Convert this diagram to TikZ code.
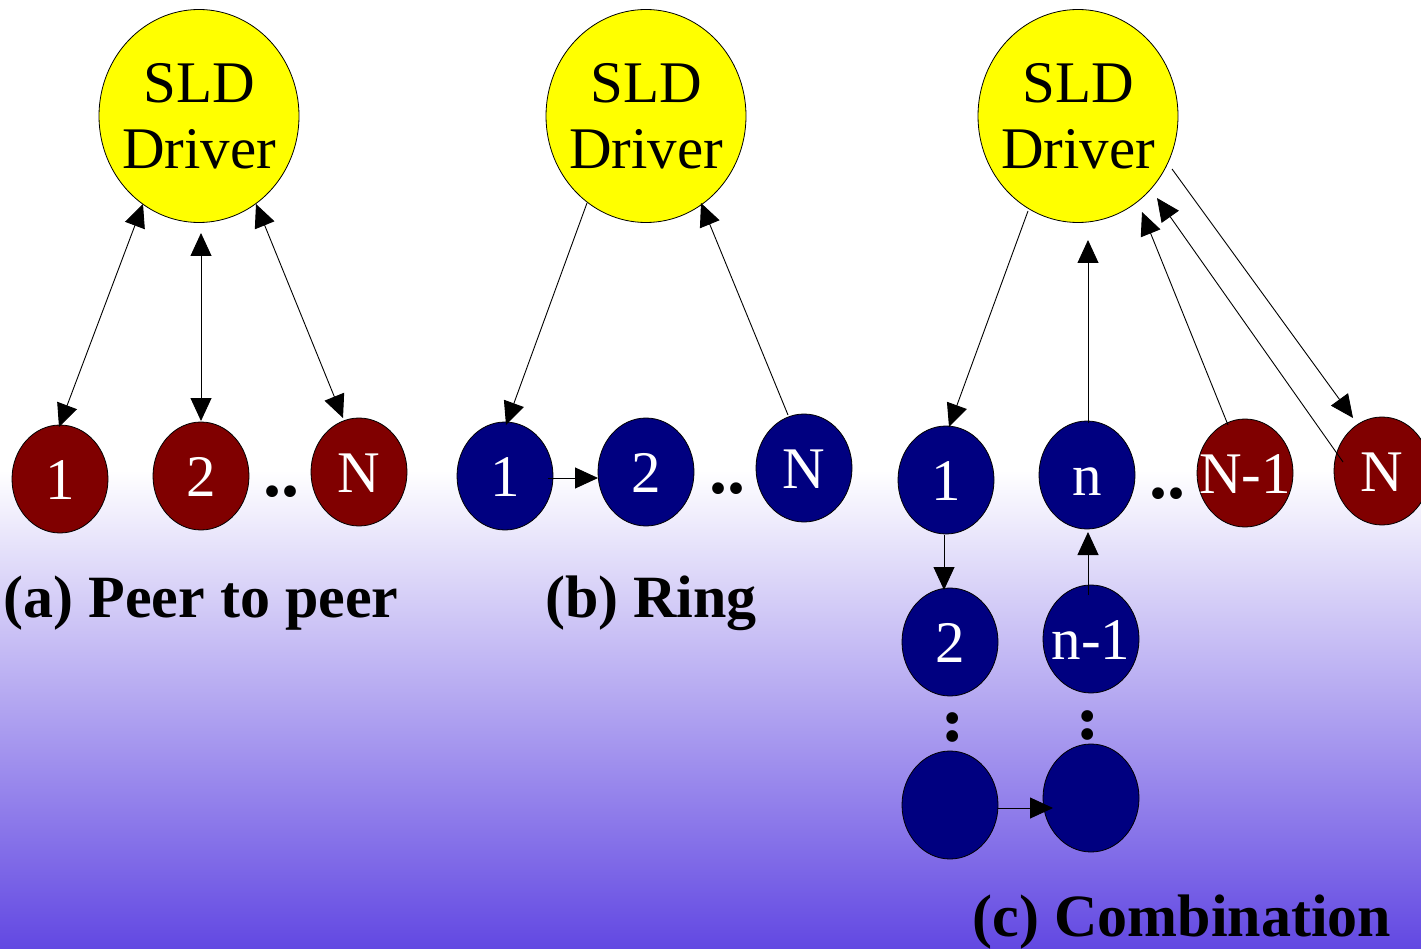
\documentclass[tikz,border=0pt]{standalone}
\usepackage{fontspec}
\setmainfont{Liberation Serif}
\usetikzlibrary{shapes.geometric,arrows.meta}
\definecolor{sldyellow}{RGB}{255,255,0}
\definecolor{peerred}{RGB}{128,0,0}
\definecolor{ringblue}{RGB}{0,0,128}
\definecolor{bgpurple}{RGB}{98,72,226}
\begin{document}
\begin{tikzpicture}[x=1pt,y=-1pt,
  driver/.style={ellipse,draw=black,line width=0.8pt,fill=sldyellow,minimum width=200pt,minimum height=213pt,inner sep=0pt,align=center,font=\fontsize{59}{66}\selectfont},
  station/.style={ellipse,draw=black,line width=0.8pt,minimum width=96pt,minimum height=108pt,inner sep=0pt,text=white,font=\fontsize{59}{66}\selectfont,text height=40pt,text depth=0pt},
  redst/.style={station,fill=peerred},
  bluest/.style={station,fill=ringblue},
  link/.style={line width=0.9pt,-{Triangle[length=23pt,width=21pt]}},
  dlink/.style={line width=0.9pt,{Triangle[length=23pt,width=21pt]}-{Triangle[length=23pt,width=21pt]}},
  dots/.style={inner sep=0pt,font=\fontsize{72}{72}\selectfont\bfseries},
  caption/.style={inner sep=0pt,anchor=base,font=\fontsize{60}{66}\selectfont\bfseries}]

\useasboundingbox (0,0) rectangle (1421,949);
\clip (0,0) rectangle (1421,949);
\fill[white] (0,0) rectangle (1421,470);
\shade[top color=white,bottom color=bgpurple] (0,470) rectangle (1421,949);

% (a) Peer to peer
\node[driver] (da) at (199,116) {\makebox[0pt]{SLD}\\\makebox[0pt]{Driver}};
\node[redst] (a1) at (60,479) {\makebox[0pt]{1}};
\node[redst] (a2) at (201,476) {\makebox[0pt]{2}};
\node[redst] (aN) at (359,472) {\makebox[0pt]{N}};
\node[dots,anchor=base] (adots) at (281,496) {..};
\node[caption] (capa) at (201,617) {(a) Peer to peer};

% (b) Ring
\node[driver] (db) at (646,116) {\makebox[0pt]{SLD}\\\makebox[0pt]{Driver}};
\node[bluest] (b1) at (505,476) {\makebox[0pt]{1}};
\node[bluest] (b2) at (646,472) {\makebox[0pt]{2}};
\node[bluest] (bN) at (804,468) {\makebox[0pt]{N}};
\node[dots,anchor=base] (bdots) at (727,493) {..};
\node[caption] (capb) at (651,617) {(b) Ring};

% (c) Combination
\node[driver] (dc) at (1078,116) {\makebox[0pt]{SLD}\\\makebox[0pt]{Driver}};
\node[bluest] (c1) at (946,480) {\makebox[0pt]{1}};
\node[bluest] (cn) at (1087,475) {\makebox[0pt]{n}};
\node[redst] (cN1) at (1245,473) {\makebox[0pt]{N-1}};
\node[redst] (cN) at (1382,471) {\makebox[0pt]{N}};
\node[dots,anchor=base] (cdots) at (1167,498) {..};
\node[bluest] (c2) at (950,642) {\makebox[0pt]{2}};
\node[bluest] (cn1) at (1091,639) {\makebox[0pt]{n-1}};
\node[dots,rotate=90] (vdotsl) at (953,727) {..};
\node[dots,rotate=90] (vdotsr) at (1088,725) {..};
\node[bluest] (c3) at (950,805) {};
\node[bluest] (c4) at (1091,798) {};
\node[caption] (capc) at (1182,936) {(c) Combination};

% connectors (a)
\draw[dlink] ([shift={(-56,88)}]da.center) -- ([shift={(-1,-52)}]a1.center);
\draw[dlink] ([shift={(2,117)}]da.center) -- ([shift={(0,-55)}]a2.center);
\draw[dlink] ([shift={(57,88)}]da.center) -- ([shift={(-16,-54)}]aN.center);

% connectors (b)
\draw[link] ([shift={(-59,87)}]db.center) -- ([shift={(1,-51)}]b1.center);
\draw[link] ([shift={(-16,-53)}]bN.center) -- ([shift={(55,87)}]db.center);
\draw[link] ([shift={(43,2)}]b1.center) -- ([shift={(-48,6)}]b2.center);

% connectors (c)
\draw[link] ([shift={(-50,95)}]dc.center) -- ([shift={(3,-53)}]c1.center);
\draw[link] ([shift={(1,-52)}]cn.center) -- ([shift={(10,124)}]dc.center);
\draw[link] ([shift={(-17,-48)}]cN1.center) -- ([shift={(64,96)}]dc.center);
\draw[link] ([shift={(-39,-9)}]cN.center) -- ([shift={(79,82)}]dc.center);
\draw[link] ([shift={(94,53)}]dc.center) -- ([shift={(-29,-53)}]cN.center);
\draw[link] ([shift={(-2,55)}]c1.center) -- ([shift={(-6,-52)}]c2.center);
\draw[link] ([shift={(-3,-44)}]cn1.center) -- ([shift={(1,57)}]cn.center);
\draw[link] ([shift={(48,3)}]c3.center) -- ([shift={(-38,10)}]c4.center);
\end{tikzpicture}
\end{document}
